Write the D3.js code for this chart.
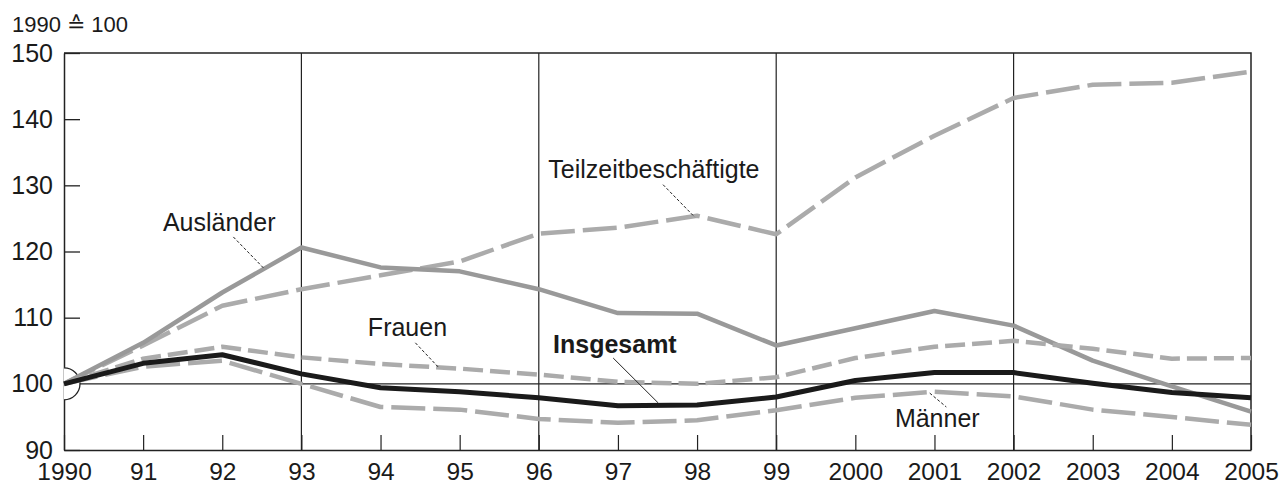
<!DOCTYPE html>
<html>
<head>
<meta charset="utf-8">
<script src="https://cdn.jsdelivr.net/npm/d3@7"></script>
<style>
  body { margin: 0; background: #fff; }
  svg { font-family: "Liberation Sans", Arial, sans-serif; }
</style>
</head>
<body>
<svg id="chart"></svg>
<script>
const years = d3.range(1990, 2006);
const gridYears = [1993, 1996, 1999, 2002];
const yTicks = [90, 100, 110, 120, 130, 140, 150];

const insgesamt = [100, 103.1, 104.4, 101.5, 99.4, 98.8, 97.9, 96.7, 96.8, 98.0, 100.5, 101.7, 101.7, 100.1, 98.7, 97.9];
const auslaender = [100, 106.2, 113.8, 120.6, 117.6, 117.0, 114.3, 110.7, 110.6, 105.8, 108.4, 111.0, 108.8, 103.5, 99.6, 95.8];
const teilzeit = [100, 105.8, 111.8, 114.3, 116.4, 118.5, 122.7, 123.6, 125.4, 122.6, 131.2, 137.5, 143.2, 145.2, 145.5, 147.2];
const frauen = [100, 103.8, 105.6, 104.0, 103.0, 102.3, 101.4, 100.3, 100.0, 101.0, 103.9, 105.6, 106.5, 105.3, 103.8, 103.9];
const maenner = [100, 102.6, 103.5, 100.0, 96.5, 96.1, 94.7, 94.1, 94.5, 96.0, 97.9, 98.8, 98.1, 96.1, 95.0, 93.8];

const width = 1284, height = 486;
const margin = { top: 53, right: 33, bottom: 36, left: 64 };

const svg = d3.select("#chart").attr("width", width).attr("height", height);

const x = d3.scaleLinear().domain([1990, 2005]).range([margin.left, width - margin.right]);
const y = d3.scaleLinear().domain([90, 150]).range([height - margin.bottom, margin.top]);

// top-left unit label
svg.append("text")
  .attr("x", 12).attr("y", 32)
  .attr("font-size", "22px").attr("fill", "#1a1a1a")
  .text("1990 \u2259 100");

// vertical grid lines every third year
svg.selectAll("line.grid")
  .data(gridYears)
  .enter()
  .append("line")
  .attr("class", "grid")
  .attr("x1", d => x(d)).attr("x2", d => x(d))
  .attr("y1", y(150)).attr("y2", y(90))
  .attr("stroke", "#222").attr("stroke-width", 1.2);

// 100 reference line
svg.append("line")
  .attr("x1", x(1990)).attr("x2", x(2005))
  .attr("y1", y(100)).attr("y2", y(100))
  .attr("stroke", "#222").attr("stroke-width", 1.2);

// frame top and right
svg.append("path")
  .attr("d", `M${x(1990)},${y(150)}H${x(2005)}V${y(90)}`)
  .attr("fill", "none").attr("stroke", "#222").attr("stroke-width", 1.5);

// x axis
const xAxis = d3.axisBottom(x)
  .tickValues(years)
  .tickSizeInner(-15)
  .tickSizeOuter(0)
  .tickPadding(0)
  .tickFormat(d => (d === 1990 || d >= 2000) ? String(d) : String(d).slice(2));

const gx = svg.append("g").attr("transform", `translate(0,${y(90)})`).call(xAxis);
gx.selectAll("text")
  .attr("y", 30).attr("dy", null)
  .attr("font-size", "24.5px").attr("fill", "#1a1a1a").attr("font-family", "Liberation Sans, Arial, sans-serif");
gx.selectAll("line").attr("stroke", "#222").attr("stroke-width", 1.2);
gx.select(".domain").attr("stroke", "#222").attr("stroke-width", 1.5);

// y axis
const yAxis = d3.axisLeft(y)
  .tickValues(yTicks)
  .tickSizeInner(-16)
  .tickSizeOuter(0)
  .tickPadding(11);

const gy = svg.append("g").attr("transform", `translate(${x(1990)},0)`).call(yAxis);
gy.selectAll("text").attr("font-size", "25px").attr("fill", "#1a1a1a").attr("font-family", "Liberation Sans, Arial, sans-serif");
gy.selectAll("line").attr("stroke", "#222").attr("stroke-width", 1.3);
gy.select(".domain").attr("stroke", "#222").attr("stroke-width", 1.5);

// half circle at base point
const r = 16;
svg.append("path")
  .attr("d", `M${x(1990)},${y(100) - r}A${r},${r} 0 0 1 ${x(1990)},${y(100) + r}`)
  .attr("fill", "#fff").attr("stroke", "#222").attr("stroke-width", 1.3);

// series
const line = d3.line()
  .x((d, i) => x(years[i]))
  .y(d => y(d));

const series = [
  { name: "Teilzeitbeschäftigte", values: teilzeit, color: "#ababab", width: 4.5, dash: "34,8" },
  { name: "Ausländer", values: auslaender, color: "#999999", width: 4.5, dash: null },
  { name: "Frauen", values: frauen, color: "#ababab", width: 4.5, dash: "20,7" },
  { name: "Männer", values: maenner, color: "#ababab", width: 4.5, dash: "34,8" },
  { name: "Insgesamt", values: insgesamt, color: "#1a1a1a", width: 5, dash: null }
];

svg.selectAll("path.series")
  .data(series)
  .enter()
  .append("path")
  .attr("class", "series")
  .attr("d", d => line(d.values))
  .attr("fill", "none")
  .attr("stroke", d => d.color)
  .attr("stroke-width", d => d.width)
  .attr("stroke-dasharray", d => d.dash)
  .attr("stroke-linejoin", "round");

// labels with leader lines (positions in data units)
const labels = [
  { text: "Ausländer", tx: 1991.25, ty: 123.1, from: [1992.14, 122.2], to: [1992.53, 117.4], bold: false, dashed: true },
  { text: "Teilzeitbeschäftigte", tx: 1996.12, ty: 131.1, from: [1997.57, 130.1], to: [1997.97, 125.2], bold: false, dashed: true },
  { text: "Frauen", tx: 1993.84, ty: 107.25, from: [1994.44, 106.2], to: [1994.74, 102.4], bold: false, dashed: true },
  { text: "Insgesamt", tx: 1996.18, ty: 104.7, from: [1996.94, 103.9], to: [1997.51, 97.1], bold: true, dashed: false },
  { text: "Männer", tx: 2000.5, ty: 93.5, from: [2000.94, 98.6], to: [2001.15, 96.5], bold: false, dashed: true }
];

svg.selectAll("line.leader")
  .data(labels)
  .enter()
  .append("line")
  .attr("class", "leader")
  .attr("x1", d => x(d.from[0])).attr("y1", d => y(d.from[1]))
  .attr("x2", d => x(d.to[0])).attr("y2", d => y(d.to[1]))
  .attr("stroke", "#222")
  .attr("stroke-width", 1)
  .attr("stroke-dasharray", d => d.dashed ? "3,2" : null);

svg.selectAll("text.label")
  .data(labels)
  .enter()
  .append("text")
  .attr("class", "label")
  .attr("x", d => x(d.tx))
  .attr("y", d => y(d.ty))
  .attr("font-size", "25px")
  .attr("font-weight", d => d.bold ? "bold" : "normal")
  .attr("fill", "#1a1a1a")
  .text(d => d.text);
</script>
</body>
</html>
